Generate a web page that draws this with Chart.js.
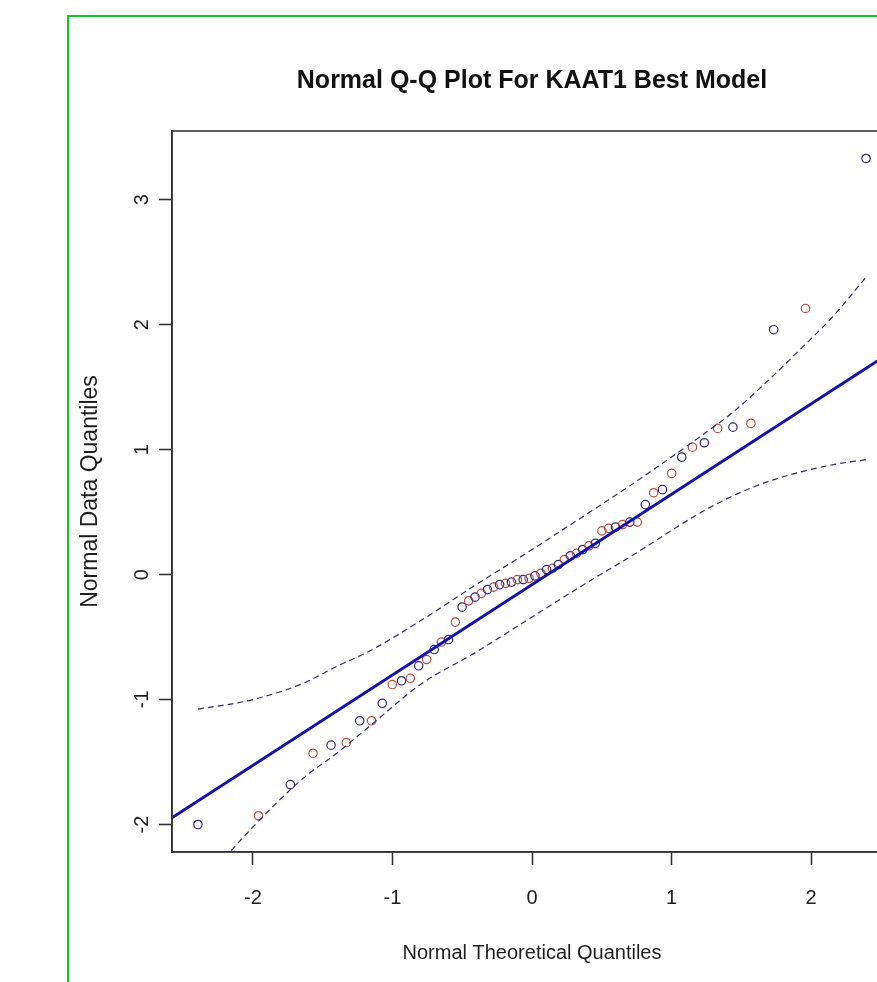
<!DOCTYPE html>
<html>
<head>
<meta charset="utf-8">
<title>Normal Q-Q Plot For KAAT1 Best Model</title>
<script src="https://cdn.jsdelivr.net/npm/chart.js@4"></script>
<style>
  html, body { margin: 0; padding: 0; background: #fff; }
  body { width: 877px; height: 982px; overflow: hidden; position: relative; }
  #frame { position: absolute; left: 67px; top: 15px; width: 1000px; height: 1200px;
           border-left: 2px solid #14c22c; border-top: 2px solid #14c22c; }
  #qqChart { position: absolute; left: 0; top: 0; }
</style>
</head>
<body>
<div id="frame"></div>
<canvas id="qqChart" width="900" height="982"></canvas>
<script>
// Theoretical quantiles (x) of the 60 residuals
const theoQ = [-2.394, -1.960, -1.732, -1.569, -1.440, -1.331, -1.235, -1.150, -1.073, -1.001,
               -0.935, -0.872, -0.812, -0.755, -0.701, -0.649, -0.598, -0.549, -0.501, -0.454,
               -0.408, -0.363, -0.319, -0.275, -0.232, -0.189, -0.147, -0.105, -0.063, -0.021,
               0.021, 0.063, 0.105, 0.147, 0.189, 0.232, 0.275, 0.319, 0.363, 0.408,
               0.454, 0.501, 0.549, 0.598, 0.649, 0.701, 0.755, 0.812, 0.872, 0.935,
               1.001, 1.073, 1.150, 1.235, 1.331, 1.440, 1.569, 1.732, 1.960, 2.394];

// Sample quantiles (y)
const dataQ = [-2.00, -1.93, -1.68, -1.43, -1.365, -1.345, -1.17, -1.17, -1.03, -0.88,
               -0.85, -0.83, -0.73, -0.68, -0.60, -0.54, -0.52, -0.38, -0.26, -0.21,
               -0.18, -0.15, -0.12, -0.10, -0.08, -0.07, -0.06, -0.04, -0.04, -0.03,
               -0.01, 0.01, 0.04, 0.05, 0.08, 0.12, 0.15, 0.17, 0.20, 0.23,
               0.25, 0.35, 0.37, 0.38, 0.40, 0.42, 0.42, 0.56, 0.655, 0.68,
               0.81, 0.94, 1.02, 1.055, 1.17, 1.18, 1.21, 1.96, 2.13, 3.33];

// Group of each point (b = blue, r = red), left to right
const groups = ['b','r','b','r','b','r','b','r','b','r',
                'b','r','b','r','b','r','b','r','b','r',
                'b','r','b','r','b','r','b','r','b','r',
                'b','r','b','r','b','r','b','r','b','r',
                'b','r','r','b','r','b','r','b','r','b',
                'r','b','r','b','r','b','r','b','r','b'];

// Reference line (ends at the plot edges)
const refX = [-2.6, 2.6];
const refY = [-1.96, 1.80];

// Confidence envelope (dashed)
const envX     = [-2.394, -2.0, -1.64, -1.40, -1.16, -0.80, -0.40, 0, 0.40, 0.70, 1.20, 1.44, 1.68, 1.92, 2.16, 2.394];
const envUpper = [-1.077, -1.00, -0.87, -0.735, -0.61, -0.37, -0.08, 0.20, 0.49, 0.71, 1.10, 1.30, 1.54, 1.80, 2.07, 2.38];
const envLower = [-2.51, -2.02, -1.63, -1.43, -1.21, -0.88, -0.62, -0.34, -0.06, 0.14, 0.49, 0.63, 0.74, 0.82, 0.88, 0.92];

// Axis ticks
const xTicks = [-2, -1, 0, 1, 2];
const yTicks = [-2, -1, 0, 1, 2, 3];

const BLUE_PT = '#2a2a86';
const RED_PT = '#bd4a38';
const LINE_COL = '#1212b4';
const DASH_COL = '#2c2c70';
const AXIS_COL = '#333';
const TEXT_COL = '#1e1e1e';

function pairs(xs, ys) {
    return xs.map((x, i) => ({ x: x, y: ys[i] }));
}

// box round the plotting region, like R's box()
const plotBox = {
    id: 'plotBox',
    afterDatasetsDraw(chart) {
        const a = chart.chartArea;
        const ctx = chart.ctx;
        ctx.save();
        ctx.strokeStyle = AXIS_COL;
        ctx.lineWidth = 1.6;
        ctx.strokeRect(a.left, a.top, a.right - a.left, a.bottom - a.top);
        ctx.restore();
    }
};

function renderQQ() {
    Chart.defaults.font.family = "'Liberation Sans', Arial, sans-serif";
    const ctx = document.getElementById('qqChart').getContext('2d');
    new Chart(ctx, {
        type: 'scatter',
        data: {
            datasets: [
                {
                    label: 'reference',
                    data: pairs(refX, refY),
                    showLine: true,
                    borderColor: LINE_COL,
                    borderWidth: 3,
                    pointRadius: 0,
                    order: 0
                },
                {
                    label: 'upper',
                    data: pairs(envX, envUpper),
                    showLine: true,
                    borderColor: DASH_COL,
                    borderWidth: 1.2,
                    borderDash: [6, 4],
                    cubicInterpolationMode: 'monotone',
                    pointRadius: 0,
                    order: 1
                },
                {
                    label: 'lower',
                    data: pairs(envX, envLower),
                    showLine: true,
                    borderColor: DASH_COL,
                    borderWidth: 1.2,
                    borderDash: [6, 4],
                    cubicInterpolationMode: 'monotone',
                    pointRadius: 0,
                    order: 1
                },
                {
                    label: 'residuals',
                    data: pairs(theoQ, dataQ),
                    pointStyle: 'circle',
                    pointRadius: 4.2,
                    pointBorderWidth: 1.2,
                    pointBackgroundColor: 'rgba(0,0,0,0)',
                    pointBorderColor: groups.map(g => g === 'b' ? BLUE_PT : RED_PT),
                    order: 2
                }
            ]
        },
        options: {
            responsive: false,
            devicePixelRatio: 1,
            animation: false,
            events: [],
            layout: { padding: { left: 0, right: 8, top: 0, bottom: 0 } },
            plugins: {
                legend: { display: false },
                tooltip: { enabled: false },
                title: {
                    display: true,
                    fullSize: false,
                    text: 'Normal Q-Q Plot For KAAT1 Best Model',
                    color: '#111',
                    font: { size: 25, weight: 'bold' },
                    padding: { top: 66, bottom: 35 }
                }
            },
            scales: {
                x: {
                    type: 'linear',
                    min: -2.58,
                    max: 2.58,
                    afterBuildTicks: s => { s.ticks = xTicks.map(v => ({ value: v })); },
                    afterFit: s => { s.height = 130; },
                    ticks: { color: TEXT_COL, font: { size: 20 }, padding: 21, autoSkip: false },
                    grid: { drawOnChartArea: false, drawTicks: true, tickLength: 13, tickColor: AXIS_COL, tickWidth: 1.6 },
                    border: { display: true, color: AXIS_COL, width: 1.6 },
                    title: {
                        display: true,
                        text: 'Normal Theoretical Quantiles',
                        color: TEXT_COL,
                        font: { size: 20 },
                        padding: { top: 0, bottom: 17 }
                    }
                },
                y: {
                    type: 'linear',
                    min: -2.22,
                    max: 3.55,
                    afterBuildTicks: s => { s.ticks = yTicks.map(v => ({ value: v })); },
                    afterFit: s => { s.width = 172; },
                    ticks: {
                        color: TEXT_COL, font: { size: 20 }, padding: 8, autoSkip: false,
                        minRotation: 90, maxRotation: 90, crossAlign: 'center'
                    },
                    grid: { drawOnChartArea: false, drawTicks: true, tickLength: 13, tickColor: AXIS_COL, tickWidth: 1.6 },
                    border: { display: true, color: AXIS_COL, width: 1.6 },
                    title: {
                        display: true,
                        text: 'Normal Data Quantiles',
                        color: TEXT_COL,
                        font: { size: 23 },
                        padding: { top: 77, bottom: 0 }
                    }
                }
            }
        },
        plugins: [plotBox]
    });
}

document.addEventListener('DOMContentLoaded', renderQQ);
</script>
</body>
</html>
